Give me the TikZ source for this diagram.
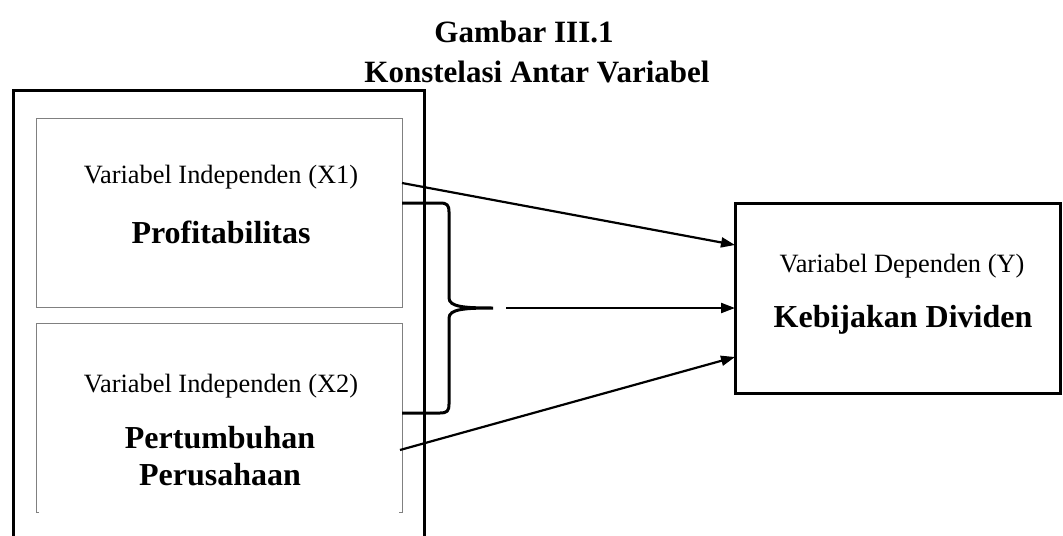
\documentclass[tikz,border=0pt]{standalone}
\usepackage{fontspec}
\setmainfont{Liberation Serif}
\usetikzlibrary{arrows.meta, calc, positioning}

\begin{document}
\begin{tikzpicture}[x=0.5pt, y=-0.5pt,
            every node/.style={inner sep=0pt, outer sep=0pt},
            varbox/.style={minimum width=183pt, minimum height=94.5pt},
            small/.style={anchor=base, font=\fontsize{13.2}{16}\selectfont},
            big/.style={anchor=base, font=\fontsize{16}{19}\selectfont\bfseries},
            >={Triangle[length=7pt, width=5pt]}]
            \useasboundingbox (0,0) rectangle (1063,535);
            \node[big, font=\fontsize{15.5}{19}\selectfont\bfseries] at (524,43) (fig) {Gambar III.1};
            \node[big, font=\fontsize{15.5}{19}\selectfont\bfseries] at (537,83) (title) {Konstelasi Antar Variabel};
            \draw[line width=1.5pt] (13,540) -- (13,91) -- (424,91) -- (424,540);
            \node[varbox, draw=gray, line width=0.5pt] at (219,212.5) (xone) {};
            \node[varbox] at (219,417.5) (xtwo) {};
            \draw[gray, line width=0.5pt] ($(xtwo.south west)+(3,0)$) -- (xtwo.south west) -- (xtwo.north west) -- (xtwo.north east) -- (xtwo.south east) -- ($(xtwo.south east)+(-3,0)$);
            \node[small] at (221,183) (xonelbl) {Variabel Independen (X1)};
            \node[big] at (221,243) (xonename) {Profitabilitas};
            \node[small] at (221,392) (xtwolbl) {Variabel Independen (X2)};
            \node[big] at (220,448) (xtwoname) {Pertumbuhan};
            \node[big] at (220,485) (xtwoname2) {Perusahaan};
            \node[draw, line width=1.5pt, minimum width=162.5pt, minimum height=95pt] at (897.5,298) (ybox) {};
            \node[small] at (902,272) (ylbl) {Variabel Dependen (Y)};
            \node[big] at (903,327) (yname) {Kebijakan Dividen};
            \coordinate (tip) at (493,308);
            \draw[line width=1.5pt] ($(xone.north east)+(0,85)$) -- (440,203) .. controls (447,203) and (449,205) .. (449,212) -- (449,298) .. controls (449,307) and (465,308) .. (tip) .. controls (465,308) and (449,309) .. (449,318) -- (449,404) .. controls (449,411) and (447,413) .. (440,413) -- ($(xtwo.north east)+(0,90)$);
            \draw[->, line width=1.1pt] ($(xone.north east)+(0,65)$) -- ($(ybox.north west)+(0,42)$);
            \draw[->, line width=1.1pt] ($(tip)+(13,0)$) -- ($(ybox.west)+(0,10)$);
            \draw[->, line width=1.1pt] ($(xtwo.north east)+(-2,127)$) -- ($(ybox.north west)+(0,154)$);
        \end{tikzpicture}
\end{document}
